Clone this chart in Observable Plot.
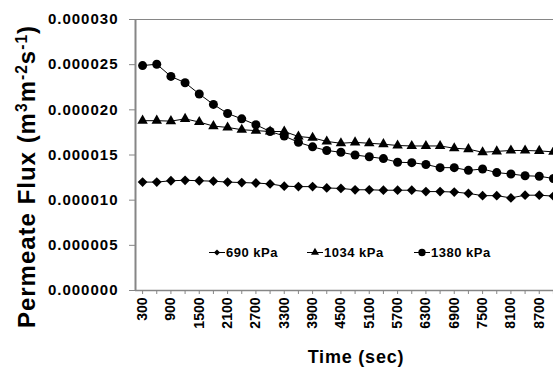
<!DOCTYPE html>
<html><head><meta charset="utf-8">
<script src="https://cdn.jsdelivr.net/npm/d3@7"></script>
<script src="https://cdn.jsdelivr.net/npm/@observablehq/plot@0.6"></script>
<style>
html,body{margin:0;padding:0;background:#fff;overflow:hidden;}
</style></head><body><div id="chart"></div>
<script>
const times = [300,600,900,1200,1500,1800,2100,2400,2700,3000,3300,3600,3900,4200,4500,4800,5100,5400,5700,6000,6300,6600,6900,7200,7500,7800,8100,8400,8700,9000];
const timeLabels = [300,900,1500,2100,2700,3300,3900,4500,5100,5700,6300,6900,7500,8100,8700];
const seriesNames = ["690 kPa","1034 kPa","1380 kPa"];
const flux690 = [1.200e-5,1.200e-5,1.215e-5,1.220e-5,1.215e-5,1.210e-5,1.200e-5,1.195e-5,1.190e-5,1.180e-5,1.155e-5,1.150e-5,1.150e-5,1.135e-5,1.130e-5,1.115e-5,1.115e-5,1.110e-5,1.110e-5,1.110e-5,1.095e-5,1.095e-5,1.090e-5,1.075e-5,1.050e-5,1.050e-5,1.025e-5,1.055e-5,1.055e-5,1.045e-5];
const flux1034 = [1.880e-5,1.880e-5,1.875e-5,1.900e-5,1.865e-5,1.820e-5,1.805e-5,1.780e-5,1.770e-5,1.760e-5,1.760e-5,1.705e-5,1.690e-5,1.650e-5,1.630e-5,1.640e-5,1.630e-5,1.620e-5,1.605e-5,1.600e-5,1.600e-5,1.600e-5,1.575e-5,1.565e-5,1.530e-5,1.540e-5,1.550e-5,1.550e-5,1.545e-5,1.535e-5];
const flux1380 = [2.490e-5,2.505e-5,2.370e-5,2.300e-5,2.175e-5,2.060e-5,1.960e-5,1.900e-5,1.835e-5,1.760e-5,1.710e-5,1.640e-5,1.590e-5,1.550e-5,1.530e-5,1.500e-5,1.480e-5,1.460e-5,1.420e-5,1.415e-5,1.395e-5,1.360e-5,1.360e-5,1.330e-5,1.345e-5,1.305e-5,1.290e-5,1.270e-5,1.265e-5,1.240e-5];
const yTicks = [0, 0.000005, 0.000010, 0.000015, 0.000020, 0.000025, 0.000030];

const seriesValues = [flux690, flux1034, flux1380];
const rows = [];
seriesNames.forEach((s, k) => seriesValues[k].forEach((v, i) => rows.push({time: times[i], flux: v, series: s})));

const FONT = "'Liberation Sans', Arial, Helvetica, sans-serif";
const gray = "#868686";
const bySeries = s => rows.filter(d => d.series === s);

const chart = Plot.plot({
  width: 553, height: 371,
  marginLeft: 135, marginRight: 0, marginTop: 19, marginBottom: 81,
  style: {fontFamily: FONT, background: "#fff", overflow: "visible"},
  x: {type: "linear", domain: [150, 9150], range: [135, 560]},
  y: {domain: [0, 0.00003], range: [290, 19]},
  marks: [
    Plot.ruleY([0.00003], {stroke: gray, strokeWidth: 1}),
    Plot.ruleY([0], {stroke: gray, strokeWidth: 1.5}),
    Plot.axisY({ticks: yTicks, tickFormat: d3.format(".6f"), tickSize: 6, tickPadding: 11, stroke: gray, fill: "#000", fontSize: 15, fontWeight: "bold", label: null}),
    Plot.axisX({ticks: times, tickSize: 4, stroke: gray, fill: "none", label: null}),
    Plot.axisX({ticks: timeLabels, tickFormat: d => String(d), tickSize: 0, tickPadding: 7, tickRotate: -90, fill: "#000", fontSize: 14, fontWeight: "bold", label: null}),
    Plot.ruleX([150], {stroke: gray, strokeWidth: 2}),
    Plot.line(rows, {x: "time", y: "flux", z: "series", stroke: "#000", strokeWidth: 1}),
    Plot.dot(bySeries(seriesNames[0]), {x: "time", y: "flux", symbol: "diamond2", r: 4.4, fill: "#000", stroke: "none"}),
    Plot.dot(bySeries(seriesNames[1]), {x: "time", y: "flux", symbol: "triangle", r: 3.9, fill: "#000", stroke: "none"}),
    Plot.dot(bySeries(seriesNames[2]), {x: "time", y: "flux", symbol: "circle", r: 4.5, fill: "#000", stroke: "none"})
  ]
});
document.getElementById("chart").appendChild(chart);

const svg = d3.select(chart);
svg.selectAll('g[aria-label="y-axis tick label"] text').style("letter-spacing", "1px");

// legend
const legendItems = [
  {label: seriesNames[0], sym: d3.symbolDiamond2, size: 24, x0: 209},
  {label: seriesNames[1], sym: d3.symbolTriangle, size: 28, x0: 307},
  {label: seriesNames[2], sym: d3.symbolCircle, size: 43, x0: 414}
];
const lg = svg.append("g").attr("font-family", FONT).attr("text-anchor", "start");
const ly = 252.5;
legendItems.forEach(it => {
  lg.append("line").attr("x1", it.x0).attr("x2", it.x0 + 16).attr("y1", ly).attr("y2", ly).attr("stroke", "#000").attr("stroke-width", 1);
  lg.append("path").attr("d", d3.symbol(it.sym, it.size)()).attr("transform", `translate(${it.x0 + 8},${ly})`).attr("fill", "#000");
  lg.append("text").attr("x", it.x0 + 17).attr("y", ly + 4.5).attr("text-anchor", "start").attr("font-size", 13).attr("font-weight", "bold").style("letter-spacing", "0.5px").text(it.label);
});

// axis titles
svg.append("text").attr("x", 356).attr("y", 363).attr("text-anchor", "middle")
  .attr("font-family", FONT).attr("font-size", 18).attr("font-weight", "bold").style("letter-spacing", "0.8px").text("Time (sec)");

const yt = svg.append("text").attr("transform", "translate(35,176.5) rotate(-90)").attr("text-anchor", "middle")
  .attr("font-family", FONT).attr("font-size", 24).attr("font-weight", "bold").style("letter-spacing", "1px");
yt.append("tspan").text("Permeate Flux (m");
yt.append("tspan").attr("baseline-shift", "super").attr("font-size", "65%").text("3");
yt.append("tspan").text("m");
yt.append("tspan").attr("baseline-shift", "super").attr("font-size", "65%").text("-2");
yt.append("tspan").text("s");
yt.append("tspan").attr("baseline-shift", "super").attr("font-size", "65%").text("-1");
yt.append("tspan").text(")");
</script></body></html>
